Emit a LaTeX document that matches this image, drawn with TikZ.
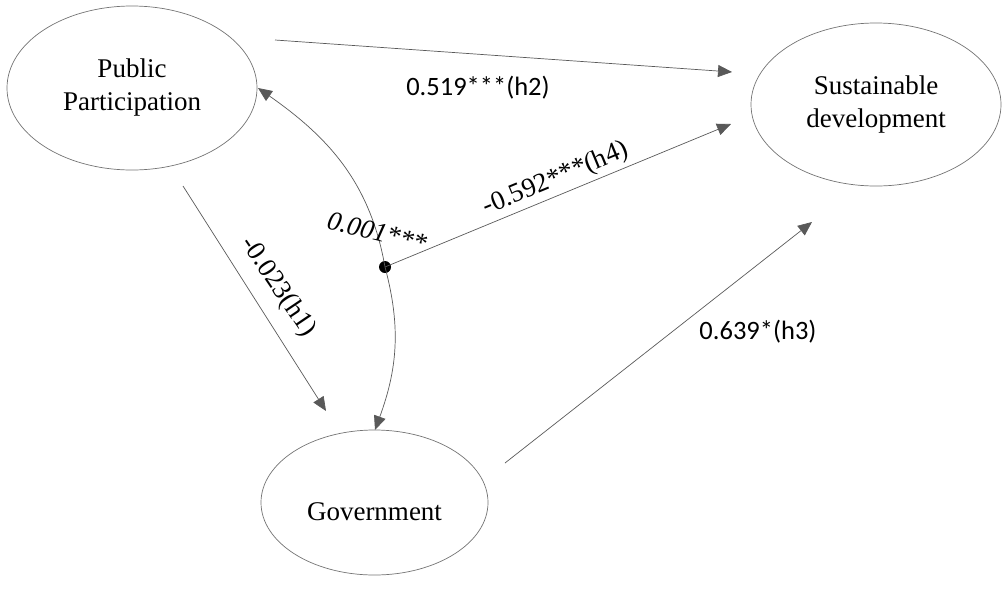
\documentclass[tikz,border=0pt]{standalone}
\usepackage{fontspec}
\setmainfont{Liberation Serif}
\newfontfamily\labsans{Carlito}
\usetikzlibrary{shapes.geometric,arrows.meta}
\begin{document}
\begin{tikzpicture}[x=1pt,y=-1pt,
  latent/.style={draw=black!55, line width=0.7pt, ellipse, inner sep=0pt, align=center,
    font=\fontsize{27}{33}\selectfont},
  txt/.style={inner sep=0pt, font=\fontsize{27}{33}\selectfont},
  path/.style={draw=black!65, line width=0.7pt, -{Triangle[length=14pt,width=12pt]}},
  coef/.style={inner sep=0pt, font=\fontsize{27}{33}\selectfont},
  sanscoef/.style={inner sep=0pt, font=\labsans\fontsize{26.5}{32}\selectfont},
  dotnode/.style={circle, fill=black, inner sep=0pt, minimum size=12pt}]
\useasboundingbox (0,0) rectangle (1002,595);
% latent variables
\node[latent, minimum width=250pt, minimum height=164pt] (pp) at (132,88) {Public\\Participation};
\node[latent, minimum width=250pt, minimum height=163pt] (sd) at (876,104.5) {Sustainable\\development};
\node[latent, minimum width=227pt, minimum height=145pt] (gov) at (374.5,502.5) {};
\node[txt] (govtext) at (374.5,511.5) {Government};
% moderation point
\node[dotnode] (dot) at (385,267) {};
% connector end points
\coordinate (h2s) at (275,40);
\coordinate (h2e) at (732,72);
\coordinate (ppin) at (258,88);
\coordinate (govin) at (375,430);
\coordinate (h4e) at (731,124);
\coordinate (h1s) at (183,186);
\coordinate (h1e) at (326,411);
\coordinate (h3s) at (505,463);
\coordinate (h3e) at (812,222);
% connectors
\draw[path] (h2s) -- (h2e);
\draw[path] (dot.center) to[out=100,in=-35] (ppin);
\draw[path] (dot.center) to[out=-75,in=70] (govin);
\draw[path] (dot.center) -- (h4e);
\draw[path] (h1s) -- (h1e);
\draw[path] (h3s) -- (h3e);
% labels
\node[sanscoef] (l2) at (478,88) {0.519***(h2)};
\node[sanscoef] (l3) at (758,332) {0.639*(h3)};
\node[coef, rotate=22.5] (l4) at (556,179) {-0.592***(h4)};
\node[coef, rotate=-14] (lm) at (377,232) {\itshape 0.001***};
\node[coef, rotate=-56] (l1) at (278,287) {-0.023(h1)};
\end{tikzpicture}
\end{document}
